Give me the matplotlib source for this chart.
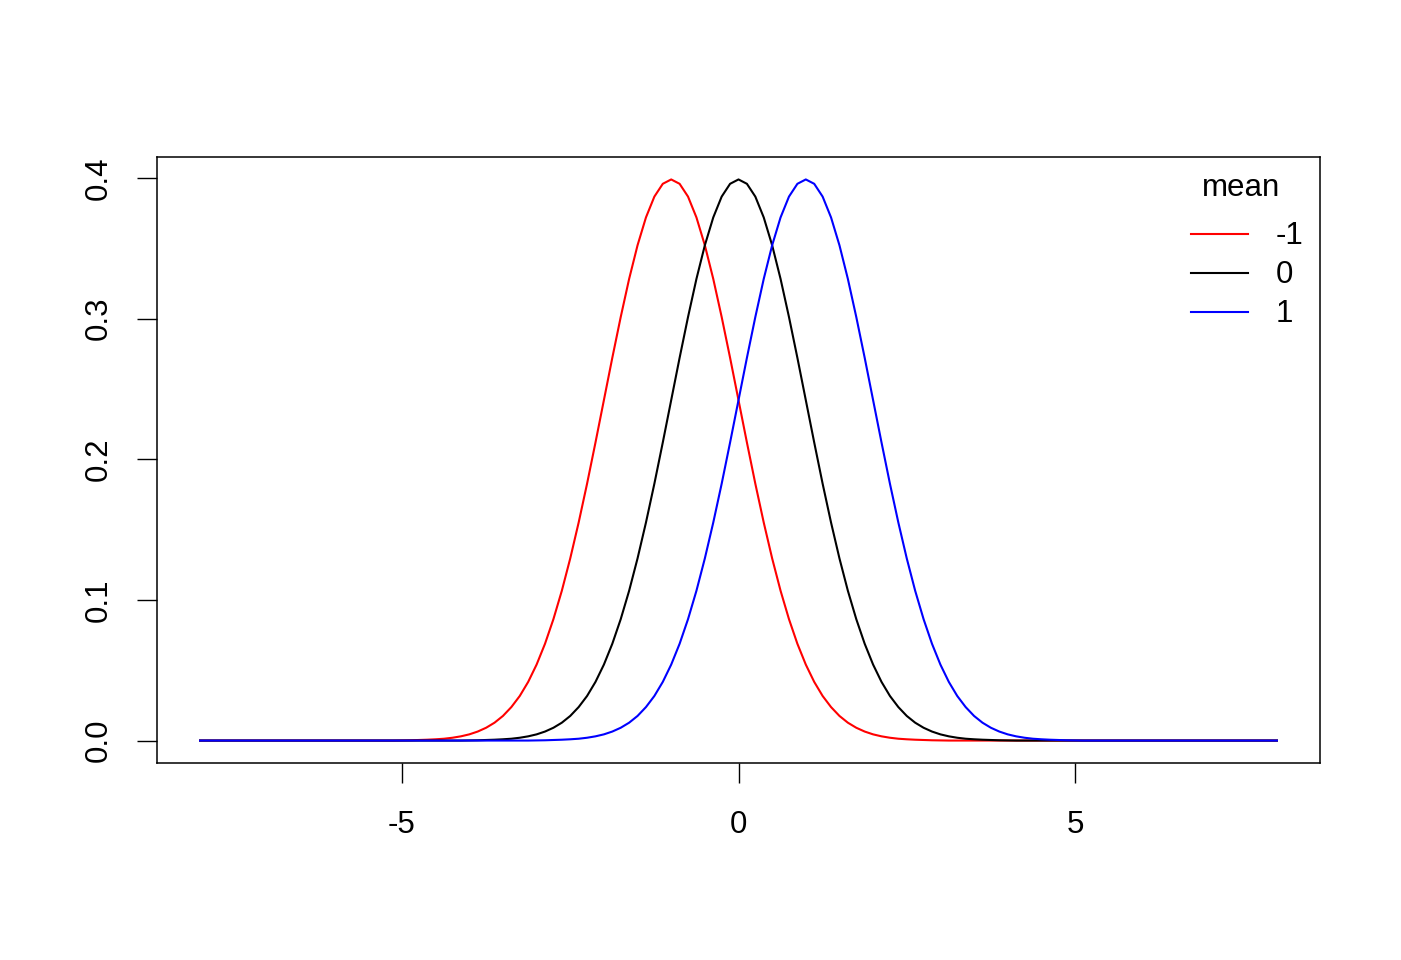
import matplotlib
matplotlib.use("Agg")
import matplotlib.pyplot as plt
from matplotlib.lines import Line2D

plt.rcParams['font.family'] = ['Liberation Sans', 'DejaVu Sans']

# x grid (step 0.125 from -8 to 8)
x = [-8 + 0.125 * i for i in range(129)]

# density curve values read at x offsets -4 .. 4 (step 0.125) from the mean
bell = [0.0001, 0.0002, 0.0004, 0.0006, 0.0009, 0.0013, 0.0020, 0.0030,
        0.0044, 0.0064, 0.0091, 0.0127, 0.0175, 0.0238, 0.0317, 0.0417,
        0.0540, 0.0688, 0.0863, 0.1065, 0.1295, 0.1550, 0.1826, 0.2119,
        0.2420, 0.2721, 0.3011, 0.3282, 0.3521, 0.3719, 0.3867, 0.3958,
        0.3989,
        0.3958, 0.3867, 0.3719, 0.3521, 0.3282, 0.3011, 0.2721, 0.2420,
        0.2119, 0.1826, 0.1550, 0.1295, 0.1065, 0.0863, 0.0688, 0.0540,
        0.0417, 0.0317, 0.0238, 0.0175, 0.0127, 0.0091, 0.0064, 0.0044,
        0.0030, 0.0020, 0.0013, 0.0009, 0.0006, 0.0004, 0.0002, 0.0001]

y_mean_m1 = [0.0] * 24 + bell + [0.0] * 40
y_mean_0 = [0.0] * 32 + bell + [0.0] * 32
y_mean_p1 = [0.0] * 40 + bell + [0.0] * 24

means = ["-1", "0", "1"]
series = [y_mean_m1, y_mean_0, y_mean_p1]
colors = ["#FF0000", "#000000", "#0000FF"]
xticks = [-5, 0, 5]
yticks = [0.0, 0.1, 0.2, 0.3, 0.4]
ytick_labels = ["0.0", "0.1", "0.2", "0.3", "0.4"]

FS = 22.5
W, H = 1401, 960
fig = plt.figure(figsize=(W / 100, H / 100), dpi=100)
ax = fig.add_axes([157 / W, 1 - 763 / H, (1320 - 157) / W, (763 - 157) / H])

for ys, c in zip(series, colors):
    ax.plot(x, ys, color=c, lw=1.5)

ymax = max(bell)
ax.set_xlim(-8 - 0.04 * 16, 8 + 0.04 * 16)
ax.set_ylim(-0.04 * ymax, ymax * 1.04)

ax.set_xticks(xticks)
ax.set_xticklabels([str(t) for t in xticks])
ax.set_yticks(yticks)
ax.set_yticklabels(ytick_labels, rotation=90, va='center')

ax.tick_params(axis='both', direction='out', length=14.5, width=1.0,
               labelsize=FS, color='black')
ax.tick_params(axis='x', pad=19)
ax.tick_params(axis='y', pad=17)
for s in ax.spines.values():
    s.set_linewidth(1.1)

# legend (no box), drawn manually in figure pixels
def fx(px):
    return px / W

def fy(py):
    return 1 - py / H

fig.text(fx(1241), fy(188), "mean", ha='center', va='center', fontsize=FS)
legend_y = [234, 273, 312]
for lab, c, py in zip(means, colors, legend_y):
    fig.add_artist(Line2D([fx(1191), fx(1248)], [fy(py), fy(py)],
                          color=c, lw=1.5, transform=fig.transFigure))
    fig.text(fx(1276), fy(py + 2), lab, ha='left', va='center', fontsize=FS)

fig.savefig("out.png", dpi=100)
